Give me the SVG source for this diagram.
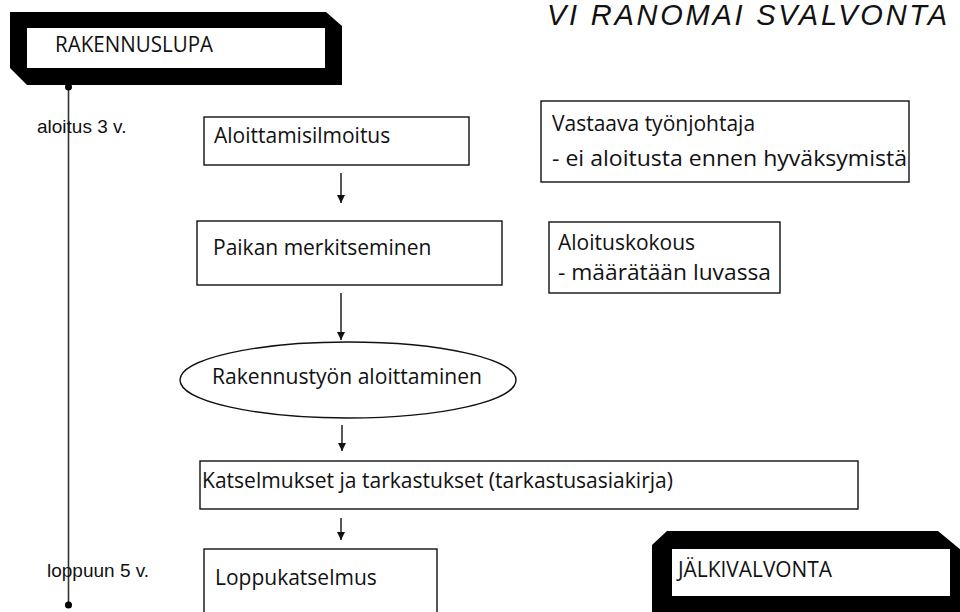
<svg xmlns="http://www.w3.org/2000/svg" width="960" height="612" viewBox="0 0 960 612">
<style>
.box{fill:#fff;stroke:#111;stroke-width:1.4}
.t{font-family:"Open Sans","Noto Sans",sans-serif;font-size:21px;fill:#111}
.a{font-family:"Liberation Sans",Arial,sans-serif;font-size:19px;fill:#111}
.c{stroke:#111;stroke-width:1.4;fill:none}
</style>
<defs>
<marker id="ah" viewBox="0 0 8 10" refX="8" refY="5" markerWidth="8" markerHeight="10" markerUnits="userSpaceOnUse" orient="auto">
<path d="M0,1 L8,5 L0,9 Z" fill="#111"/>
</marker>
</defs>
<rect width="960" height="612" fill="#fff"/>
<text x="547" y="25" font-family="'Liberation Sans',Arial,sans-serif" font-style="italic" font-size="29" fill="#111" textLength="400" lengthAdjust="spacing">VI RANOMAI SVALVONTA</text>

<g id="timeline">
<line x1="68.5" y1="87" x2="68.5" y2="605" stroke="#333" stroke-width="1.6"/>
<circle cx="68.5" cy="87" r="3.5" fill="#000"/>
<circle cx="68.5" cy="605" r="3.5" fill="#000"/>
<text class="a" x="37" y="133">aloitus 3 v.</text>
<text class="a" x="47" y="577">loppuun 5 v.</text>
</g>

<g id="rakennuslupa">
<polygon points="10,12 326,12 342,26 342,85 27,85 10,68" fill="#000"/>
<rect x="27" y="28" width="298" height="40" fill="#fff"/>
<text class="t" x="55" y="52" textLength="158" lengthAdjust="spacingAndGlyphs">RAKENNUSLUPA</text>
</g>

<g id="aloittamisilmoitus">
<rect class="box" x="204" y="117" width="265" height="48"/>
<text class="t" x="214" y="143">Aloittamisilmoitus</text>
</g>

<g id="vastaava">
<rect class="box" x="541" y="101" width="368" height="81"/>
<text class="t" x="552" y="131" font-size="23">Vastaava työnjohtaja</text>
<text class="t" x="552" y="166" font-size="23" textLength="355" lengthAdjust="spacingAndGlyphs">- ei aloitusta ennen hyväksymistä</text>
</g>

<g id="paikan">
<rect class="box" x="197" y="221" width="305" height="64"/>
<text class="t" x="213" y="255">Paikan merkitseminen</text>
</g>

<g id="aloituskokous">
<rect class="box" x="549" y="222" width="231" height="71"/>
<text class="t" x="558" y="250" font-size="22">Aloituskokous</text>
<text class="t" x="558" y="280" font-size="22" textLength="213" lengthAdjust="spacingAndGlyphs">- määrätään luvassa</text>
</g>

<g id="rakennustyo">
<ellipse class="box" cx="348" cy="380" rx="168" ry="38"/>
<text class="t" x="212" y="384" font-size="22" textLength="270" lengthAdjust="spacingAndGlyphs">Rakennustyön aloittaminen</text>
</g>

<g id="katselmukset">
<rect class="box" x="200" y="461" width="658" height="48"/>
<text class="t" x="202" y="488" font-size="21" textLength="471" lengthAdjust="spacingAndGlyphs">Katselmukset ja tarkastukset (tarkastusasiakirja)</text>
</g>

<g id="loppukatselmus">
<rect class="box" x="204" y="549" width="233" height="70"/>
<text class="t" x="215" y="585">Loppukatselmus</text>
</g>

<g id="jalkivalvonta">
<polygon points="652,545 667,531 938,531 962,551 962,620 652,620" fill="#000"/>
<rect x="672" y="549" width="278" height="47" fill="#fff"/>
<text class="t" x="678" y="577" textLength="154" lengthAdjust="spacingAndGlyphs">JÄLKIVALVONTA</text>
</g>

<g id="connectors">
<line class="c" x1="341" y1="173" x2="341" y2="203" marker-end="url(#ah)"/>
<line class="c" x1="341" y1="293" x2="341" y2="340" marker-end="url(#ah)"/>
<line class="c" x1="342" y1="425" x2="342" y2="451" marker-end="url(#ah)"/>
<line class="c" x1="341" y1="518" x2="341" y2="540" marker-end="url(#ah)"/>
</g>
</svg>
